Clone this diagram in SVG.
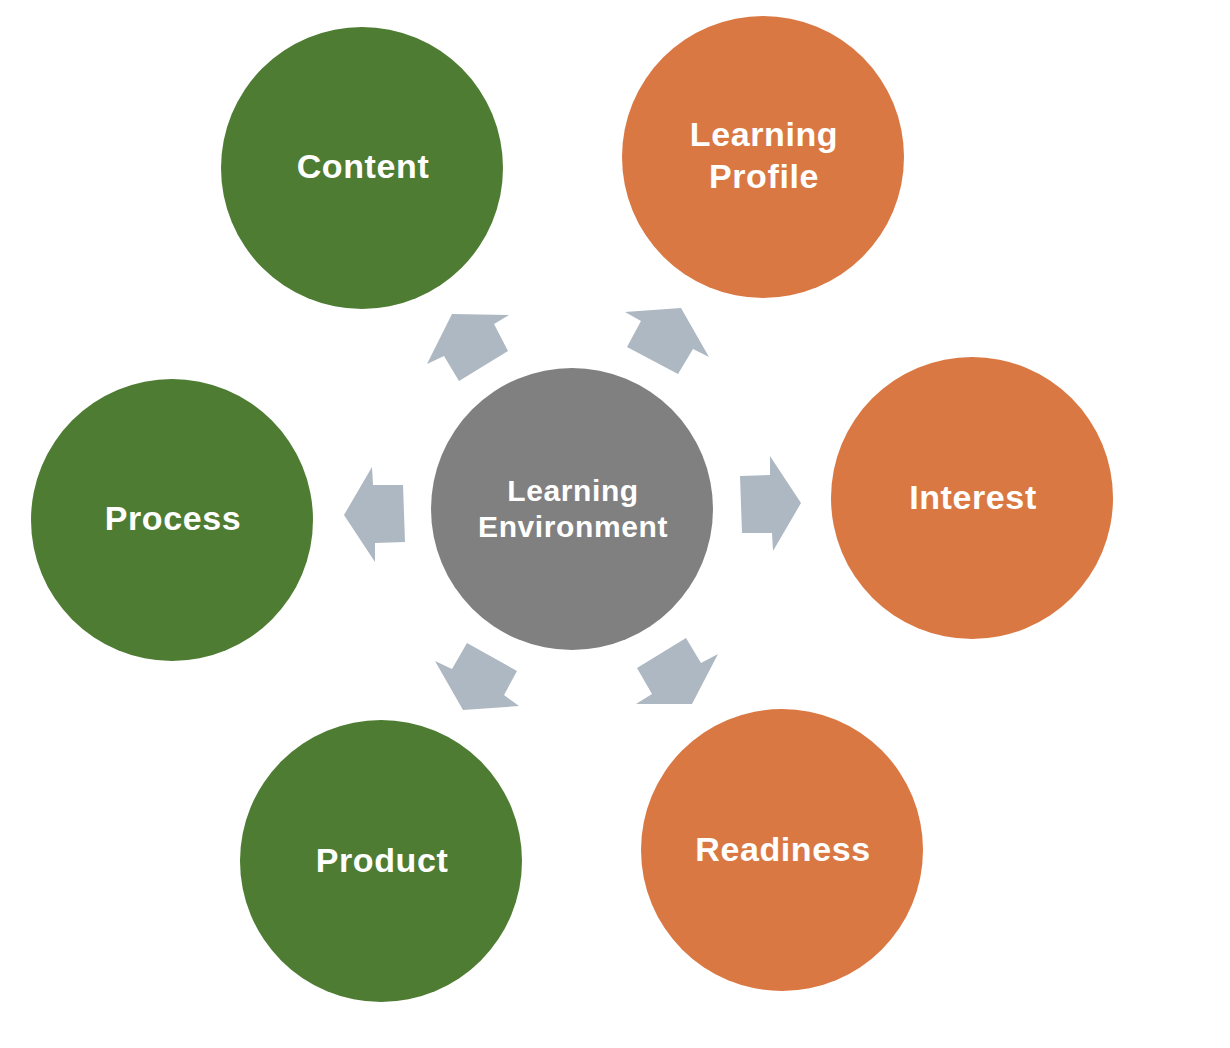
<svg xmlns="http://www.w3.org/2000/svg" width="1230" height="1048" viewBox="0 0 1230 1048">
<style>
.g{fill:#4E7C32}
.o{fill:#DA7843}
.c{fill:#808080}
.a{fill:#ADB8C2}
.t{fill:#ffffff;font-family:"Liberation Sans",Arial,sans-serif;font-weight:bold;font-size:34px;letter-spacing:0.6px;text-anchor:middle}
.tc{font-size:30px}
</style>
<rect width="1230" height="1048" fill="#ffffff"/>
<g id="connectors">
<polygon class="a" points="427,364 452,314 509,315 494,324 508,351 459,381 444,356"/>
<polygon class="a" points="625,312 681,308 709,357 693,349 678,374 627,347 641,321"/>
<polygon class="a" points="372,467 373,485 403,485 405,542 375,543 375,562 344,515"/>
<polygon class="a" points="740,476 770,475 770,456 801,503 773,551 772,533 742,533"/>
<polygon class="a" points="435,661 452,669 467,643 517,671 504,695 519,706 463,710"/>
<polygon class="a" points="636,704 652,694 637,668 686,638 701,663 718,654 692,704"/>
</g>
<g id="center">
<circle class="c" cx="572" cy="509" r="141"/>
<text class="t tc" x="573" y="501">Learning</text>
<text class="t tc" x="573" y="537">Environment</text>
</g>
<g id="content">
<circle class="g" cx="362" cy="168" r="141"/>
<text class="t" x="363" y="178">Content</text>
</g>
<g id="learning-profile">
<circle class="o" cx="763" cy="157" r="141"/>
<text class="t" x="764" y="146">Learning</text>
<text class="t" x="764" y="188">Profile</text>
</g>
<g id="interest">
<circle class="o" cx="972" cy="498" r="141"/>
<text class="t" x="973" y="509">Interest</text>
</g>
<g id="readiness">
<circle class="o" cx="782" cy="850" r="141"/>
<text class="t" x="783" y="861">Readiness</text>
</g>
<g id="product">
<circle class="g" cx="381" cy="861" r="141"/>
<text class="t" x="382" y="872">Product</text>
</g>
<g id="process">
<circle class="g" cx="172" cy="520" r="141"/>
<text class="t" x="173" y="530">Process</text>
</g>
</svg>
